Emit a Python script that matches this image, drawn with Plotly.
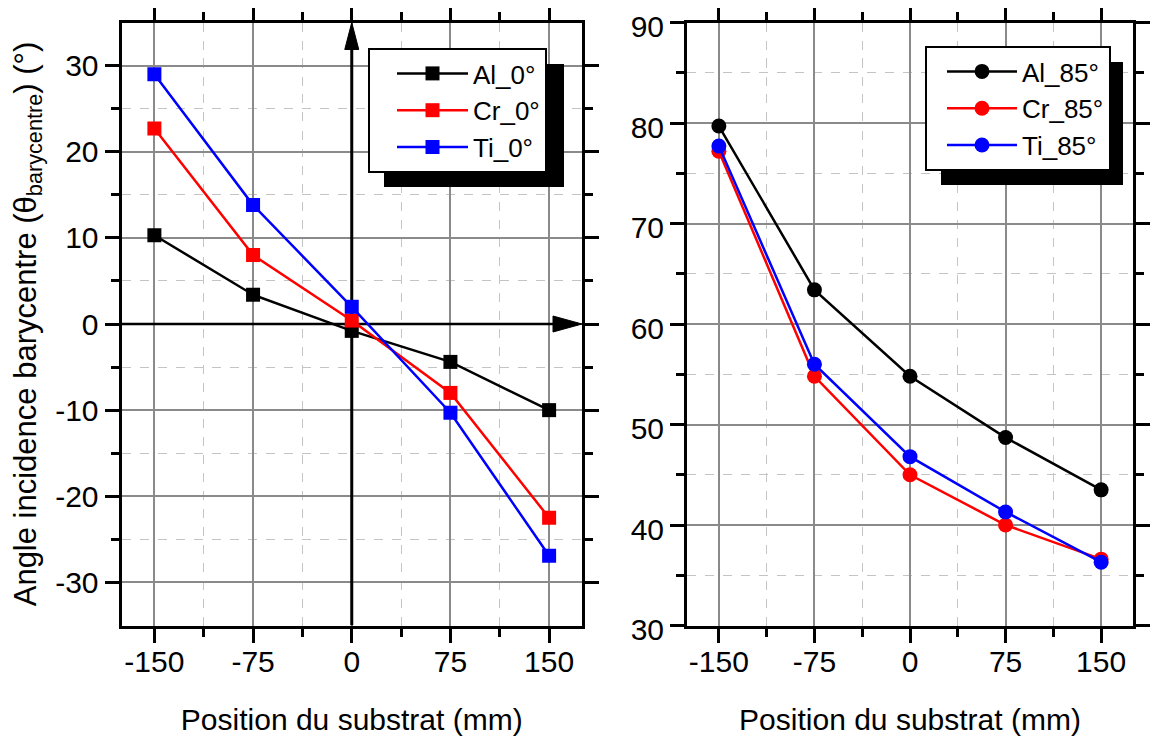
import plotly.graph_objects as go

# ---- data ----
positions = [-150, -75, 0, 75, 150]
al_0 = [10.3, 3.4, -0.8, -4.4, -10.0]
cr_0 = [22.7, 8.0, 0.4, -8.0, -22.5]
ti_0 = [29.0, 13.8, 2.0, -10.3, -26.9]
al_85 = [79.7, 63.4, 54.8, 48.7, 43.5]
cr_85 = [77.2, 54.8, 45.0, 40.0, 36.6]
ti_85 = [77.7, 56.0, 46.8, 41.3, 36.3]
x_ticks = [-150, -75, 0, 75, 150]
y_ticks_left = [-30, -20, -10, 0, 10, 20, 30]
y_ticks_right = [30, 40, 50, 60, 70, 80, 90]
names_0 = ["Al_0°", "Cr_0°", "Ti_0°"]
names_85 = ["Al_85°", "Cr_85°", "Ti_85°"]
colors = ["#000000", "#ff0000", "#0000ff"]

W, H = 1169, 737
OFF = 8  # page body margin in the browser
FONT = "Liberation Sans, Arial, sans-serif"

fig = go.Figure()
for name, vals, col in zip(names_0, [al_0, cr_0, ti_0], colors):
    fig.add_trace(go.Scatter(x=positions, y=vals, name=name, mode="lines+markers",
                             line=dict(color=col, width=2.5),
                             marker=dict(symbol="square", size=14, color=col),
                             xaxis="x", yaxis="y", legend="legend"))
for name, vals, col in zip(names_85, [al_85, cr_85, ti_85], colors):
    fig.add_trace(go.Scatter(x=positions, y=vals, name=name, mode="lines+markers",
                             line=dict(color=col, width=2.5),
                             marker=dict(symbol="circle", size=15, color=col),
                             xaxis="x2", yaxis="y2", legend="legend2"))

def px_x(p):
    return (p - OFF) / W

def px_y(p):
    return 1 - (p - OFF) / H

common = dict(showline=True, linecolor="black", linewidth=3, mirror="ticks",
              ticks="outside", ticklen=14, tickwidth=3, tickcolor="black",
              showgrid=True, gridcolor="#8a8a8a", gridwidth=1.5, zeroline=False,
              tickfont=dict(size=30, color="black", family=FONT),
              ticklabeloverflow="allow",
              layer="above traces", automargin=False)

def xaxis(domain, anchor):
    d = dict(common)
    d.update(domain=domain, anchor=anchor, range=[-175, 175],
             tickmode="array", tickvals=x_ticks, ticktext=[str(v) for v in x_ticks],
             ticklabelstandoff=-7,
             minor=dict(tickmode="array", tickvals=[-112.5, -37.5, 37.5, 112.5],
                        ticklen=8, tickwidth=3, tickcolor="black", ticks="outside",
                        showgrid=True, griddash="dash", gridcolor="#c4c4c4", gridwidth=1),
             title=dict(text="Position du substrat (mm)", font=dict(size=30, color="black", family=FONT),
                        standoff=33))
    return d

def yaxis(domain, anchor, rng, ticks, title=None, shift=0):
    d = dict(common)
    minor_vals = [t + 5 for t in ticks[:-1]]
    d.update(domain=domain, anchor=anchor, range=rng,
             tickmode="array", tickvals=ticks, ticktext=[str(v) for v in ticks],
             ticklabelshift=shift,
             minor=dict(tickmode="array", tickvals=minor_vals,
                        ticklen=8, tickwidth=3, tickcolor="black", ticks="outside",
                        showgrid=True, griddash="dash", gridcolor="#c4c4c4", gridwidth=1))
    if title:
        d["title"] = dict(text=title, font=dict(size=31, color="black", family=FONT), standoff=10)
    return d

ydom = [px_y(625.5), px_y(22.5)]
fig.update_layout(
    width=W, height=H,
    margin=dict(l=0, r=0, t=0, b=0, autoexpand=False),
    paper_bgcolor="white", plot_bgcolor="white",
    font=dict(family=FONT, color="black"),
    xaxis=xaxis([px_x(121.5), px_x(582)], "y"),
    yaxis=yaxis(ydom, "x", [-35, 35], y_ticks_left,
                "Angle incidence barycentre (θ<sub>barycentre</sub>) (°)"),
    xaxis2=xaxis([px_x(687), px_x(1133)], "y2"),
    yaxis2=yaxis(ydom, "x2", [30, 90], y_ticks_right, shift=4),
    legend=dict(x=px_x(368), y=px_y(48), xanchor="left", yanchor="top",
                bgcolor="white", bordercolor="black", borderwidth=2,
                font=dict(size=26, color="black", family=FONT),
                itemwidth=71, indentation=22),
    legend2=dict(x=px_x(925), y=px_y(46), xanchor="left", yanchor="top",
                 bgcolor="white", bordercolor="black", borderwidth=2,
                 font=dict(size=26, color="black", family=FONT),
                 itemwidth=70, indentation=15),
    showlegend=True,
)

# coordinate axes with arrows in the left panel
fig.add_shape(type="line", xref="x", yref="y", x0=0, x1=0, y0=-35, y1=33,
              line=dict(color="black", width=3), layer="between")
fig.add_shape(type="line", xref="x", yref="y", x0=-175, x1=172, y0=0, y1=0,
              line=dict(color="black", width=2.5), layer="between")
fig.add_shape(type="path", xref="x", yref="y", xsizemode="pixel", ysizemode="pixel",
              xanchor=0, yanchor=35, path="M0,0 L-7,-27 L7,-27 Z",
              fillcolor="black", line=dict(color="black", width=1), layer="above")
fig.add_shape(type="path", xref="x", yref="y", xsizemode="pixel", ysizemode="pixel",
              xanchor=175, yanchor=0, path="M0,0 L-29,8 L-29,-8 Z",
              fillcolor="black", line=dict(color="black", width=1), layer="above")

# legend drop shadows
fig.add_shape(type="rect", xref="paper", yref="paper",
              x0=px_x(384), x1=px_x(564), y0=px_y(187), y1=px_y(64),
              fillcolor="black", line=dict(width=0), layer="above")
fig.add_shape(type="rect", xref="paper", yref="paper",
              x0=px_x(941), x1=px_x(1123), y0=px_y(185), y1=px_y(62),
              fillcolor="black", line=dict(width=0), layer="above")

fig.write_html("out.html")
